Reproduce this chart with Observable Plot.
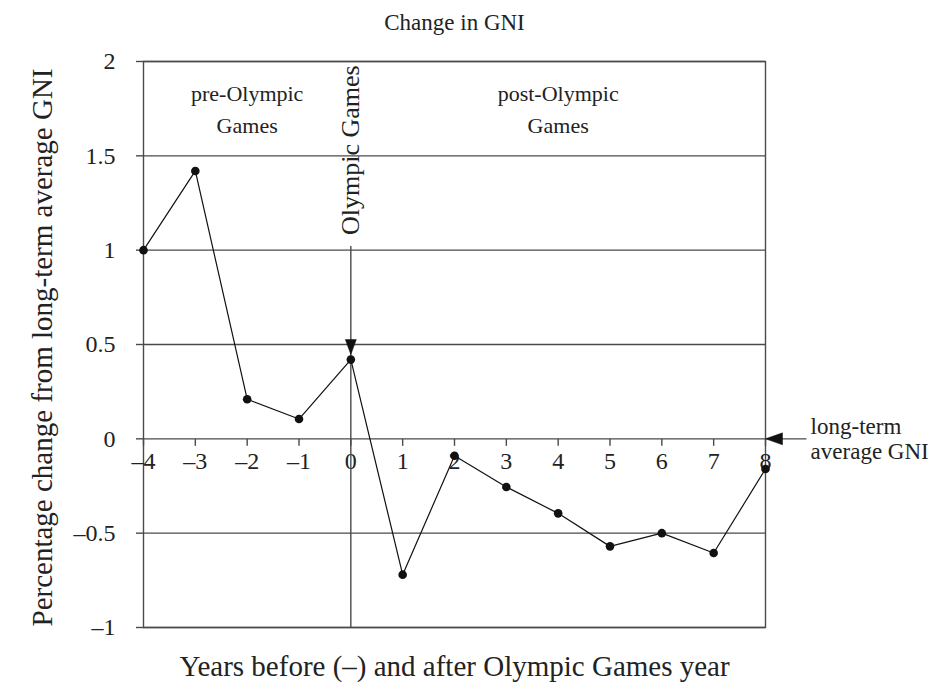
<!DOCTYPE html>
<html>
<head>
<meta charset="utf-8">
<script src="https://cdn.jsdelivr.net/npm/d3@7"></script>
<script src="https://cdn.jsdelivr.net/npm/@observablehq/plot@0.6"></script>
<style>
  html, body { margin: 0; padding: 0; background: #fff; }
  svg { font-family: "Liberation Serif", "Times New Roman", serif; }
</style>
</head>
<body>
<div id="chart"></div>
<script>
// ---- data ----
const years = [-4, -3, -2, -1, 0, 1, 2, 3, 4, 5, 6, 7, 8];
const gniChange = [1.0, 1.42, 0.21, 0.105, 0.42, -0.72, -0.09, -0.255, -0.395, -0.57, -0.50, -0.605, -0.16];
const xTicks = [-4, -3, -2, -1, 0, 1, 2, 3, 4, 5, 6, 7, 8];
const yTicks = [-1, -0.5, 0, 0.5, 1, 1.5, 2];
const title = "Change in GNI";
const xLabel = "Years before (\u2013) and after Olympic Games year";
const yLabel = "Percentage change from long-term average GNI";
const periodLabels = ["pre-Olympic\nGames", "post-Olympic\nGames"];
const periodX = [-2, 4];
const periodY = [1.76, 1.76];
const gamesLabel = "Olympic Games";
const gamesLabelY = 1.53;
const gamesYear = 0;
const gamesLineTop = 1.02;
const refLabel = "long-term\naverage GNI";
const refLabelX = 8.87;
const refLineEnd = 8.8;

const data = years.map((x, i) => ({x, y: gniChange[i]}));
const fmt = d => d < 0 ? "\u2013" + String(-d) : String(d);

const tickDown = {draw(ctx) { ctx.moveTo(0, 0); ctx.lineTo(0, 7); }};
const headDown = {draw(ctx) { ctx.moveTo(0, 0); ctx.lineTo(-5.5, -15); ctx.lineTo(5.5, -15); ctx.closePath(); }};
const headLeft = {draw(ctx) { ctx.moveTo(0, 0); ctx.lineTo(17, -6); ctx.lineTo(17, 6); ctx.closePath(); }};

const grey = "#4a4a4a";

const chart = Plot.plot({
  width: 938,
  height: 686,
  marginLeft: 143,
  marginRight: 173,
  marginTop: 61,
  marginBottom: 59,
  style: {fontFamily: "Liberation Serif, Times New Roman, serif", background: "#fff", color: "#222"},
  x: {domain: [-4, 8], axis: null},
  y: {domain: [-1, 2], axis: null},
  marks: [
    Plot.ruleY(yTicks, {stroke: grey, strokeWidth: 1.4}),
    Plot.frame({stroke: grey, strokeWidth: 1.4}),
    Plot.axisY({ticks: yTicks, tickSize: 7, tickPadding: 21, tickFormat: fmt, fontSize: 24, stroke: grey, strokeWidth: 1.4, label: null, fill: "#222"}),
    // x ticks on the zero line
    Plot.dot(xTicks, {x: d => d, y: () => 0, symbol: tickDown, stroke: grey, strokeWidth: 1.4, fill: "none", r: 3}),
    Plot.text(xTicks, {x: d => d, y: () => 0, text: d => fmt(d), dy: 22, fontSize: 24, fill: "#222"}),
    // zero line extension with arrow
    Plot.ruleY([0], {x1: 8, x2: refLineEnd, stroke: grey, strokeWidth: 1.4}),
    Plot.dot([0], {x: () => 8, y: d => d, symbol: headLeft, fill: "#111", stroke: "#111", strokeWidth: 0.5, r: 5}),
    Plot.text([refLabel], {x: () => refLabelX, y: () => 0, text: d => d, textAnchor: "start", fontSize: 23, lineHeight: 1.05, fill: "#222"}),
    // Olympic Games vertical arrow
    Plot.ruleX([gamesYear], {y1: gamesLineTop, y2: -1, stroke: grey, strokeWidth: 1.4}),
    Plot.dot([gamesYear], {x: d => d, y: d => gniChange[years.indexOf(d)], symbol: headDown, dy: -5, fill: "#111", stroke: "#111", strokeWidth: 0.5, r: 5}),
    Plot.text([gamesLabel], {x: () => gamesYear, y: () => gamesLabelY, text: d => d, rotate: -90, fontSize: 26, fill: "#222"}),
    // period labels
    Plot.text(periodLabels, {x: (d, i) => periodX[i], y: (d, i) => periodY[i], text: d => d, fontSize: 22, lineHeight: 1.45, fill: "#222"}),
    // data
    Plot.line(data, {x: "x", y: "y", stroke: "#111", strokeWidth: 1.2}),
    Plot.dot(data, {x: "x", y: "y", r: 4.3, fill: "#111"}),
    // titles
    Plot.text([title], {frameAnchor: "top", dy: -39, lineAnchor: "middle", text: d => d, fontSize: 23, fill: "#222"}),
    Plot.text([xLabel], {frameAnchor: "bottom", dy: 39, lineAnchor: "middle", text: d => d, fontSize: 29, fill: "#222"}),
    Plot.text([yLabel], {frameAnchor: "left", dx: -101, dy: 3, rotate: -90, textAnchor: "middle", lineAnchor: "middle", text: d => d, fontSize: 29, fill: "#222"})
  ]
});
document.getElementById("chart").appendChild(chart);
</script>
</body>
</html>
